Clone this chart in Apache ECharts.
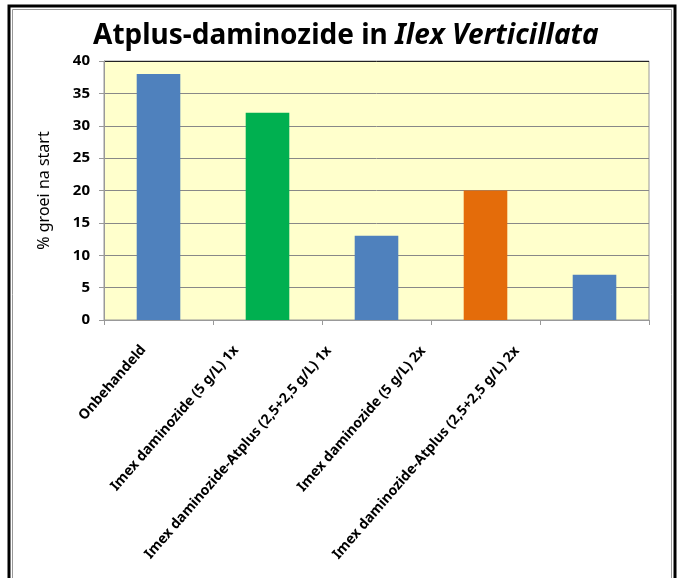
<!DOCTYPE html>
<html>
<head>
<meta charset="utf-8">
<script src="https://cdn.jsdelivr.net/npm/echarts@6/dist/echarts.min.js"></script>
<style>
html,body{margin:0;padding:0;background:#fff;}
#grafiek{width:681px;height:578px;}
</style>
</head>
<body>
<div id="grafiek"></div>
<script>
// data
var categorieen = ['Onbehandeld', 'Imex daminozide (5 g/L) 1x', 'Imex daminozide-Atplus (2,5+2,5 g/L) 1x', 'Imex daminozide (5 g/L) 2x', 'Imex daminozide-Atplus (2,5+2,5 g/L) 2x'];
var groei = [38, 32, 13, 20, 7];
var kleuren = ['#4F81BD', '#00B050', '#4F81BD', '#E46C0A', '#4F81BD'];

var lettertype = "'Noto Sans', sans-serif";

// labels schuiven in Excel steeds verder naar links
var labelRechts = [23, 34, 45, 55, 65];
var labelOnder = [0, 24, 48, 70, 93];
var rijk = {};
for (var i = 0; i < categorieen.length; i++) {
  rijk['p' + i] = {
    fontFamily: lettertype,
    fontSize: 14,
    fontWeight: 'bold',
    color: '#000',
    padding: [0, labelRechts[i], labelOnder[i], 0]
  };
}

var myChart = echarts.init(document.getElementById('grafiek'));
var option = {
  backgroundColor: '#fff',
  animation: false,
  title: {
    text: '{n|Atplus-daminozide in }{i|Ilex Verticillata}',
    left: 88,
    top: 17,
    textStyle: {
      rich: {
        n: { fontFamily: lettertype, fontSize: 28, fontWeight: 'bold', color: '#000' },
        i: { fontFamily: lettertype, fontSize: 28, fontWeight: 'bold', fontStyle: 'italic', color: '#000' }
      }
    }
  },
  graphic: [
    { type: 'rect', shape: { x: 9, y: 6, width: 666, height: 600 }, style: { fill: 'none', stroke: '#000', lineWidth: 3 }, silent: true },
    { type: 'rect', shape: { x: 12.5, y: 9.5, width: 659, height: 600 }, style: { fill: 'none', stroke: '#999', lineWidth: 1 }, silent: true }
  ],
  grid: {
    left: 104,
    right: 32,
    top: 61,
    bottom: 258,
    show: true,
    backgroundColor: '#FFFFCC',
    borderColor: '#999',
    borderWidth: 1
  },
  xAxis: {
    type: 'category',
    data: categorieen,
    axisLine: { lineStyle: { color: '#999', width: 1 } },
    axisTick: { show: true, length: 5, lineStyle: { color: '#999' } },
    axisLabel: {
      rotate: 49,
      interval: 0,
      margin: 10,
      formatter: function (value, index) {
        return '{p' + index + '|' + value + '}';
      },
      rich: rijk
    }
  },
  yAxis: {
    type: 'value',
    min: 0,
    max: 40,
    interval: 5,
    name: '% groei na start',
    nameLocation: 'middle',
    nameGap: 52,
    nameTextStyle: { fontFamily: lettertype, fontSize: 16, color: '#000' },
    axisLine: { show: true, lineStyle: { color: '#999', width: 1 } },
    axisTick: { show: true, length: 5, lineStyle: { color: '#999' } },
    axisLabel: { fontFamily: lettertype, fontSize: 15, fontWeight: 'bold', color: '#000', margin: 14 },
    splitLine: {
      show: true,
      lineStyle: { color: ['#888', '#888', '#888', '#888', '#888', '#888', '#888', '#888', '#222'], width: 1 }
    }
  },
  series: [
    {
      type: 'bar',
      data: groei,
      barWidth: '40%',
      itemStyle: {
        color: function (params) {
          return kleuren[params.dataIndex];
        }
      }
    }
  ]
};
myChart.setOption(option);
</script>
</body>
</html>
